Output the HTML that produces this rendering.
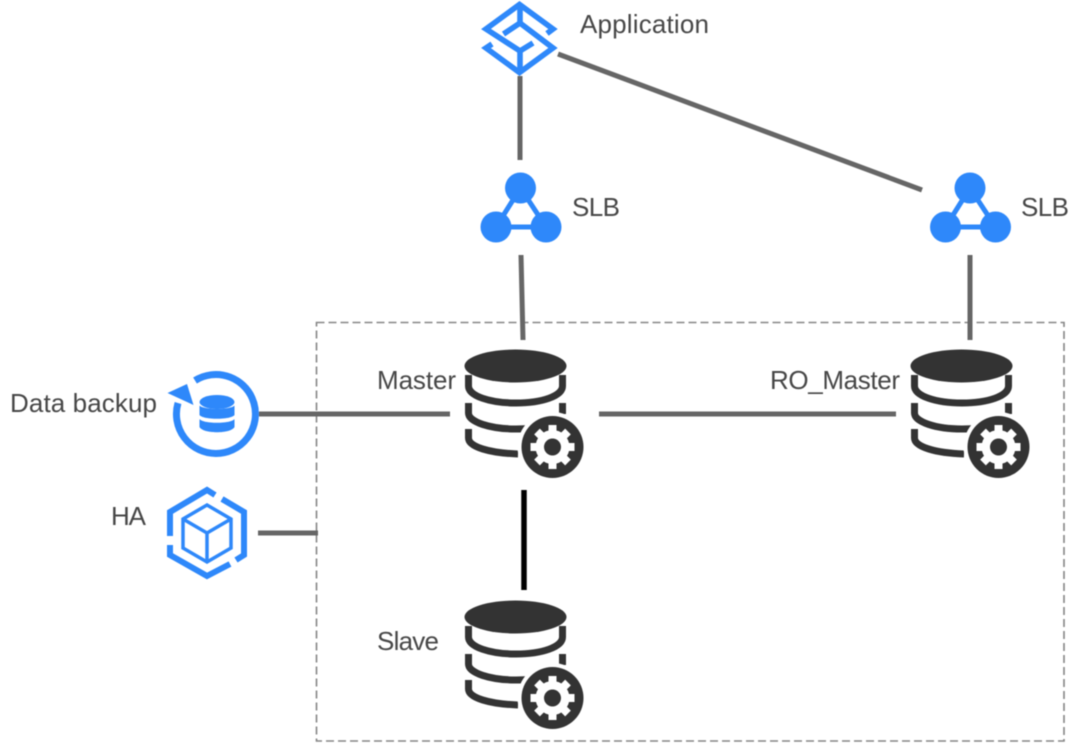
<!DOCTYPE html>
<html>
<head>
<meta charset="utf-8">
<style>
html,body{margin:0;padding:0;background:#fff;width:1080px;height:743px;overflow:hidden}
svg{display:block;filter:blur(.45px)}
text{font-family:"Liberation Sans",sans-serif;font-size:26px;fill:#474747}
</style>
</head>
<body>
<svg width="1080" height="743" viewBox="0 0 1080 743" xmlns="http://www.w3.org/2000/svg">
<defs>
<g id="db">
  <ellipse cx="515.5" cy="366" rx="51" ry="16.5" fill="#333"/>
  <g fill="none" stroke="#333" stroke-width="7">
    <path d="M468.500 375V386C468.500 396 490 403 516 403S562.500 396 562.500 386V375"/>
    <path d="M468.500 403V413C468.500 422 490 429 516 429C524 429 530 428.500 536 428"/>
    <path d="M562.500 403V414" />
    <path d="M468.500 429V438C468.500 447 490 453 518 454"/>
  </g>
  <circle cx="552.500" cy="447" r="35" fill="#fff"/>
  <circle cx="552.500" cy="447" r="31" fill="#333"/>
  <g stroke="#fff" stroke-width="8">
    <path d="M552.500 425V469M530.500 447H574.500M537 431.500L568 462.500M537 462.500L568 431.500"/>
  </g>
  <circle cx="552.500" cy="447" r="17" fill="#fff"/>
  <circle cx="552.500" cy="447" r="8.500" fill="#333"/>
</g>
<g id="slb">
  <path d="M520.500 188L496 227H546Z" fill="none" stroke="#2E88FA" stroke-width="5"/>
  <circle cx="520.500" cy="188" r="15.500" fill="#2E88FA"/>
  <circle cx="496" cy="227" r="15.500" fill="#2E88FA"/>
  <circle cx="546" cy="227" r="15.500" fill="#2E88FA"/>
</g>
</defs>

<rect x="316.500" y="322.500" width="747.500" height="418.500" fill="none" stroke="#858585" stroke-width="1.600" stroke-dasharray="8 4"/>

<g fill="none" stroke="#666" stroke-width="5">
  <path d="M520 76V160"/>
  <path d="M558 54L922 190"/>
  <path d="M521 255L523 340"/>
  <path d="M970 255V340"/>
  <path d="M259 414H450"/>
  <path d="M599 414H896"/>
  <path d="M258 533H318"/>
</g>
<path d="M524 490V590" stroke="#000" stroke-width="5.500" fill="none"/>

<!-- Application icon -->
<g fill="none" stroke="#2E88FA" stroke-width="5.600">
  <path d="M547 33.500L553 29L519.500 4.500L486 29L520 51L533 43"/>
  <path d="M503.500 34L520 23L553 48L519.500 72.500L486 48L492 44"/>
  <path d="M520 5V23M520 51V73"/>
</g>

<use href="#slb"/>
<use href="#slb" x="449.500"/>

<use href="#db"/>
<use href="#db" x="446"/>
<use href="#db" y="251"/>

<!-- Data backup icon -->
<g>
  <path d="M195 380.500A39.500 39.500 0 1 1 178 403" fill="none" stroke="#2E88FA" stroke-width="7"/>
  <path d="M167.500 393L187 384L193.500 405Z" fill="#2E88FA"/>
  <ellipse cx="217" cy="402" rx="17.500" ry="7" fill="#2E88FA"/>
  <path d="M199.500 405.500C203 410 231 410 234.500 405.500V415C231 420 203 420 199.500 415Z" fill="#2E88FA"/>
  <path d="M199.500 419C203 424 231 424 234.500 419V427C231 434 203 434 199.500 427Z" fill="#2E88FA"/>
</g>

<!-- HA icon -->
<g fill="none" stroke="#2E88FA">
  <path d="M170 536V512L207 490L215 495" stroke-width="6"/>
  <path d="M222 499L244 512V555L236 560" stroke-width="6"/>
  <path d="M230 564L207 576L170 555V545" stroke-width="6"/>
  <path d="M207 505L231 519V548L207 562L183 548V519Z" stroke-width="3.500"/>
  <path d="M183 519L207 533L231 519M207 533V562" stroke-width="3.500"/>
</g>

<text x="580" y="33" textLength="129">Application</text>
<text x="572" y="216" textLength="48">SLB</text>
<text x="1021" y="216" textLength="48">SLB</text>
<text x="10" y="412" textLength="147">Data backup</text>
<text x="111" y="525" textLength="35">HA</text>
<text x="377" y="389" textLength="79">Master</text>
<text x="770" y="389" textLength="130">RO_Master</text>
<text x="377" y="650" textLength="62">Slave</text>
</svg>
</body>
</html>
